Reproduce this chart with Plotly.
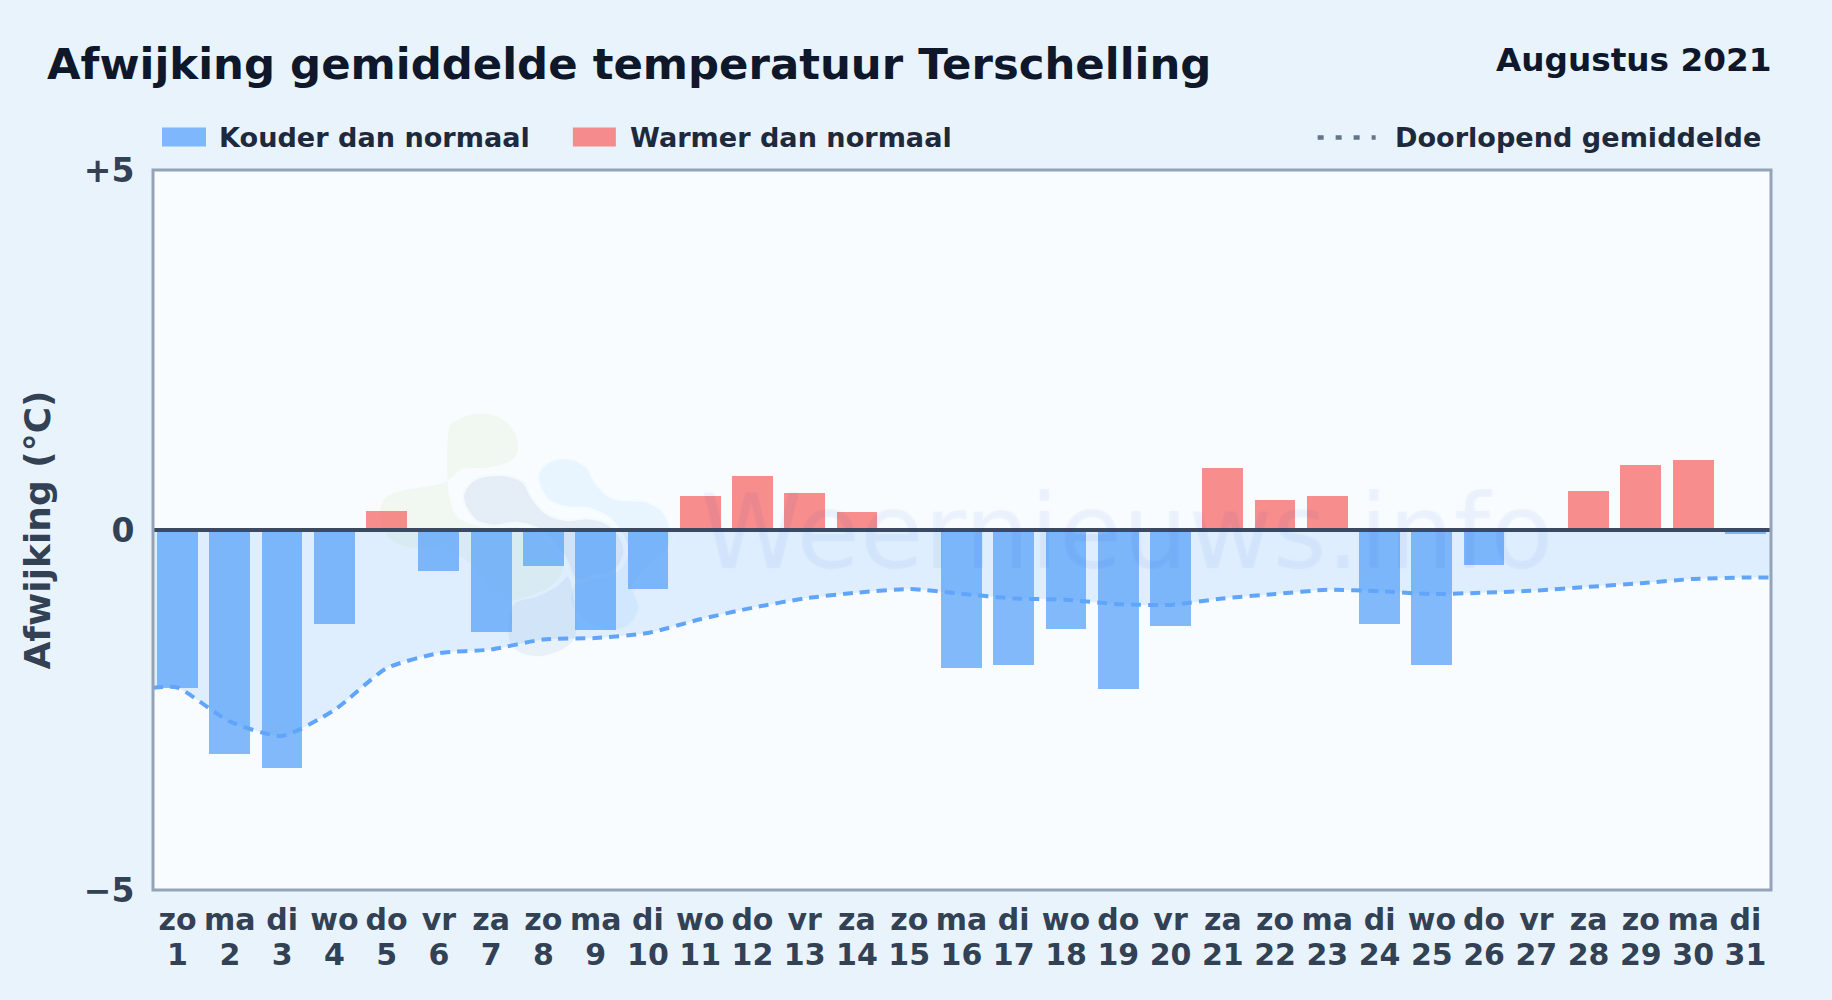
import plotly.graph_objects as go

# ---- data ----
day_names = ["zo","ma","di","wo","do","vr","za","zo","ma","di","wo","do","vr","za","zo","ma",
             "di","wo","do","vr","za","zo","ma","di","wo","do","vr","za","zo","ma","di"]
day_numbers = list(range(1, 32))
anomaly = [-2.19,-3.11,-3.30,-1.30,0.26,-0.57,-1.42,-0.50,-1.39,-0.82,
           0.47,0.75,0.52,0.25,-0.03,-1.91,-1.87,-1.37,-2.21,-1.33,
           0.86,0.42,0.47,-1.30,-1.87,-0.48,0.0,0.54,0.90,0.97,-0.05]
running_mean = [-2.19,-2.66,-2.86,-2.50,-1.92,-1.71,-1.66,-1.52,-1.50,-1.43,
                -1.24,-1.08,-0.95,-0.87,-0.82,-0.885,-0.95,-0.97,-1.03,-1.04,
                -0.95,-0.89,-0.83,-0.85,-0.89,-0.87,-0.84,-0.79,-0.74,-0.68,-0.66]
x_start, x_end = 0.53, 31.49
y_ticks = [-5, 0, 5]
y_tick_labels = ["−5", "0", "+5"]

# ---- style ----
FONT = "DejaVu Sans"
PAGE = "#e8f3fc"
PLOT = "#f8fcff"
BLUE = "rgba(96,165,250,0.78)"
RED = "rgba(248,113,113,0.8)"
LINE_BLUE = "#60a5fa"
W, H = 1832, 1000
L, R, T, B = 153.0, 1771.5, 169.5, 890.0

def px(x):
    return (x - L) / (R - L)
def py(y):
    return (B - y) / (B - T)

def blob_path(points):
    pts = [(360 + a / 3, 390 + b / 3) for a, b in points]
    pts = [(px(a), py(b)) for a, b in pts]
    n = len(pts)
    d = f"M{pts[0][0]:.5f},{pts[0][1]:.5f}"
    for i in range(n):
        p0, p1, p2, p3 = pts[i-1], pts[i], pts[(i+1) % n], pts[(i+2) % n]
        c1 = (p1[0] + (p2[0]-p0[0]) / 6, p1[1] + (p2[1]-p0[1]) / 6)
        c2 = (p2[0] - (p3[0]-p1[0]) / 6, p2[1] - (p3[1]-p1[1]) / 6)
        d += f" C{c1[0]:.5f},{c1[1]:.5f} {c2[0]:.5f},{c2[1]:.5f} {p2[0]:.5f},{p2[1]:.5f}"
    return d + " Z"

logo_green = [(265,130),(300,85),(375,70),(440,95),(475,160),(455,210),(380,232),(310,235),(270,265),
              (225,285),(130,300),(75,325),(60,375),(85,440),(150,472),(250,480),(330,520),(400,610),
              (460,630),(570,590),(610,530),(590,450),(480,400),(330,400),(270,330)]
logo_slate = [(305,320),(340,265),(420,250),(490,270),(520,320),(560,365),(620,385),(690,380),(750,400),
              (790,450),(795,500),(760,545),(700,560),(645,570),(610,500),(540,425),(470,402),(400,410),(340,390)]
logo_sky = [(530,260),(560,215),(620,200),(680,225),(710,275),(760,320),(860,330),(915,365),(935,420),
            (925,480),(860,540),(825,590),(842,650),(815,705),(760,725),(680,700),(630,640),(640,580),
            (700,555),(790,500),(790,450),(750,390),(690,360),(620,355),(560,330)]
logo_low = [(445,730),(460,645),(530,620),(590,590),(625,560),(640,620),(650,720),(620,770),(540,798),(470,780)]

fig = go.Figure()
fig.add_trace(go.Scatter(
    x=[x_start] + day_numbers + [x_end],
    y=[running_mean[0]] + running_mean + [running_mean[-1]],
    mode="lines", name="Doorlopend gemiddelde",
    line=dict(color=LINE_BLUE, width=4, dash="10px,7px", shape="spline", smoothing=0.6),
    fill="tozeroy", fillcolor="rgba(96,165,250,0.16)", showlegend=False, hoverinfo="skip"))
fig.add_trace(go.Bar(
    x=day_numbers, y=[v if v < 0 else None for v in anomaly], width=0.78,
    name="Kouder dan normaal", marker=dict(color=BLUE, line=dict(width=0)), showlegend=False))
fig.add_trace(go.Bar(
    x=day_numbers, y=[v if v > 0 else None for v in anomaly], width=0.78,
    name="Warmer dan normaal", marker=dict(color=RED, line=dict(width=0)), showlegend=False))
# carries the second row of tick labels
fig.add_trace(go.Scatter(x=day_numbers, y=[None] * 31, xaxis="x2", mode="lines",
                         showlegend=False, hoverinfo="skip"))

shapes = [
    dict(type="path", path=blob_path(logo_green), xref="paper", yref="paper", layer="below",
         fillcolor="rgba(190,225,150,0.13)", line=dict(width=0)),
    dict(type="path", path=blob_path(logo_sky), xref="paper", yref="paper", layer="below",
         fillcolor="rgba(96,180,250,0.10)", line=dict(width=5, color="rgba(248,252,255,0.8)")),
    dict(type="path", path=blob_path(logo_slate), xref="paper", yref="paper", layer="below",
         fillcolor="rgba(100,140,190,0.13)", line=dict(width=5, color="rgba(248,252,255,0.8)")),
    dict(type="path", path=blob_path(logo_low), xref="paper", yref="paper", layer="below",
         fillcolor="rgba(100,140,190,0.10)", line=dict(width=0)),
    # zero line above the bars
    dict(type="line", xref="x", yref="y", x0=x_start, x1=x_end, y0=0, y1=0,
         line=dict(color="#3b4a60", width=4), layer="above"),
    # plot frame
    dict(type="rect", xref="paper", yref="paper", x0=0, x1=1, y0=0, y1=1,
         line=dict(color="#94a3b8", width=3), fillcolor="rgba(0,0,0,0)", layer="above"),
    # legend swatches
    dict(type="rect", xref="paper", yref="paper", x0=px(162), x1=px(206), y0=py(146), y1=py(127),
         fillcolor=BLUE, line=dict(width=0)),
    dict(type="rect", xref="paper", yref="paper", x0=px(573), x1=px(616), y0=py(146), y1=py(127),
         fillcolor=RED, line=dict(width=0)),
    dict(type="line", xref="paper", yref="paper", x0=px(1318), x1=px(1376), y0=py(137), y1=py(137),
         line=dict(color="#64748b", width=4.5, dash="6px,12px")),
]

def text(x, y, s, size, color, xanchor="left", weight=700, shadow=None):
    f = dict(family=FONT, size=size, color=color, weight=weight)
    if shadow:
        f["shadow"] = shadow
    return dict(text=s, x=px(x), y=py(y), xref="paper", yref="paper", xanchor=xanchor, yanchor="middle",
                showarrow=False, font=f)

WM = "rgba(50,110,200,0.05)"
annotations = [
    text(45, 63, "Afwijking gemiddelde temperatuur Terschelling", 43.4, "#0f172a"),
    text(1774, 59, "Augustus 2021", 32.7, "#0f172a", xanchor="right"),
    text(216.7, 137, "Kouder dan normaal", 27.1, "#1e293b"),
    text(627.7, 137, "Warmer dan normaal", 27.1, "#1e293b"),
    text(1393.5, 137, "Doorlopend gemiddelde", 27.1, "#1e293b"),
    text(1127, 532, "Weernieuws.info", 103.5, WM, xanchor="center", weight=400,
         shadow=f"2px 0 0 {WM}, -2px 0 0 {WM}, 0 2px 0 {WM}, 0 -2px 0 {WM}"),
]

fig.update_layout(
    width=W, height=H, autosize=False,
    margin=dict(l=L, r=W - R, t=T, b=H - B, pad=0),
    paper_bgcolor=PAGE, plot_bgcolor=PLOT,
    barmode="overlay", bargap=0, showlegend=False,
    font=dict(family=FONT, color="#334155"),
    shapes=shapes, annotations=annotations,
    xaxis=dict(range=[x_start, x_end], tickmode="array", tickvals=day_numbers, ticktext=day_names,
               tickangle=0, showgrid=False, zeroline=False, showline=False,
               ticks="outside", ticklen=3, tickcolor="rgba(0,0,0,0)",
               tickfont=dict(family=FONT, size=30, color="#334155", weight=700)),
    xaxis2=dict(range=[x_start, x_end], overlaying="x", side="bottom", anchor="y",
                tickmode="array", tickvals=day_numbers, ticktext=[str(d) for d in day_numbers],
                tickangle=0, showgrid=False, zeroline=False, showline=False,
                ticks="outside", ticklen=38, tickcolor="rgba(0,0,0,0)",
                tickfont=dict(family=FONT, size=30, color="#334155", weight=700)),
    yaxis=dict(range=[-5, 5], tickmode="array", tickvals=y_ticks, ticktext=y_tick_labels,
               showgrid=False, zeroline=False, showline=False,
               ticks="outside", ticklen=11, tickcolor="rgba(0,0,0,0)",
               tickfont=dict(family=FONT, size=33, color="#334155", weight=700),
               title=dict(text="Afwijking (°C)", standoff=22,
                          font=dict(family=FONT, size=36, color="#334155", weight=700))),
)
fig.write_html("out.html", config={"displayModeBar": False},
               post_script="document.body.style.margin='0';document.body.style.background='%s';" % PAGE)
